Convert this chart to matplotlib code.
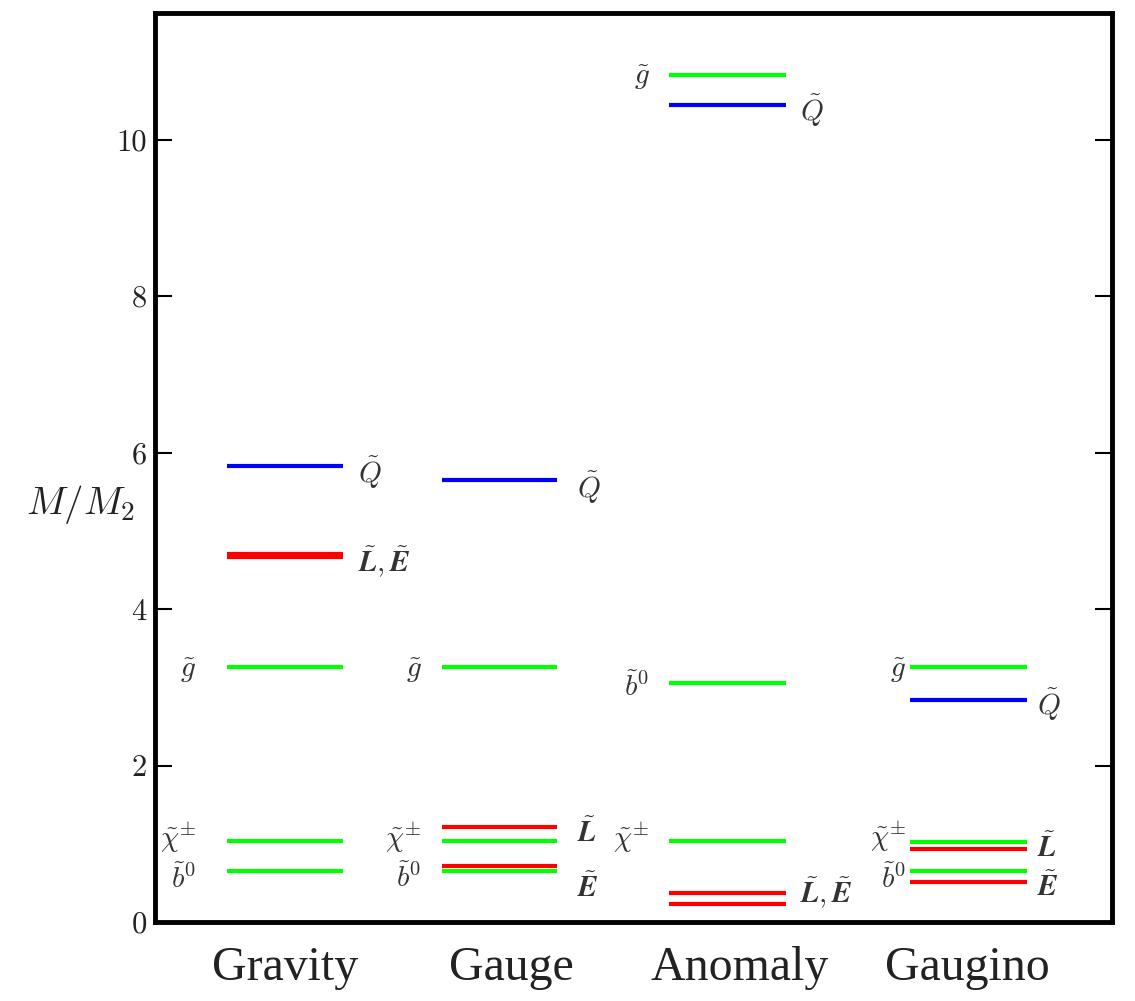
import matplotlib
matplotlib.use("Agg")
import matplotlib.pyplot as plt

plt.rcParams['mathtext.fontset'] = 'cm'
plt.rcParams['axes.formatter.use_mathtext'] = True

# --- data: mass levels M/M2 per scenario ---
schemes = ["Gravity", "Gauge", "Anomaly", "Gaugino"]

gravity_vals = [5.83, 4.71, 4.66, 3.26, 1.04, 0.65]
gravity_cols = ["blue", "red", "red", "lime", "lime", "lime"]

gauge_vals = [5.65, 3.26, 1.21, 1.04, 0.72, 0.65]
gauge_cols = ["blue", "lime", "red", "lime", "red", "lime"]

anomaly_vals = [10.83, 10.45, 3.06, 1.04, 0.37, 0.23]
anomaly_cols = ["lime", "blue", "lime", "lime", "red", "red"]

gaugino_vals = [3.26, 2.84, 1.02, 0.93, 0.65, 0.51]
gaugino_cols = ["lime", "blue", "lime", "red", "lime", "red"]

levels = [(gravity_vals, gravity_cols), (gauge_vals, gauge_cols),
          (anomaly_vals, anomaly_cols), (gaugino_vals, gaugino_cols)]

# labels: (side, text, y)
gravity_lab = [("r", r"$\tilde{Q}$", 5.75), ("r", r"$\tilde{\boldsymbol{L}},\tilde{\boldsymbol{E}}$", 4.6),
               ("l", r"$\tilde{g}$", 3.22), ("l", r"$\tilde{\chi}^{\pm}$", 1.08), ("l", r"$\tilde{b}^{0}$", 0.55)]
gauge_lab = [("r", r"$\tilde{Q}$", 5.55), ("l", r"$\tilde{g}$", 3.22), ("r", r"$\tilde{\boldsymbol{L}}$", 1.14),
             ("l", r"$\tilde{\chi}^{\pm}$", 1.08), ("l", r"$\tilde{b}^{0}$", 0.56), ("r", r"$\tilde{\boldsymbol{E}}$", 0.43)]
anomaly_lab = [("l", r"$\tilde{g}$", 10.8), ("r", r"$\tilde{Q}$", 10.37), ("l", r"$\tilde{b}^{0}$", 3.0),
               ("l", r"$\tilde{\chi}^{\pm}$", 1.08), ("r", r"$\tilde{\boldsymbol{L}},\tilde{\boldsymbol{E}}$", 0.36)]
gaugino_lab = [("l", r"$\tilde{g}$", 3.22), ("r", r"$\tilde{Q}$", 2.78), ("l", r"$\tilde{\chi}^{\pm}$", 1.09),
               ("r", r"$\tilde{\boldsymbol{L}}$", 0.95), ("l", r"$\tilde{b}^{0}$", 0.55), ("r", r"$\tilde{\boldsymbol{E}}$", 0.45)]
labels = [gravity_lab, gauge_lab, anomaly_lab, gaugino_lab]

# layout (x in data units, axis 0..4.2)
line_x = [(0.316, 0.825), (1.26, 1.764), (2.255, 2.768), (3.312, 3.825)]
lab_left = [0.18, 1.17, 2.17, 3.295]
lab_right = [0.89, 1.85, 2.83, 3.87]
cat_x = [0.57, 1.566, 2.567, 3.567]

fig = plt.figure(figsize=(11.35, 10.01), dpi=100)
ax = fig.add_axes([0.1366, 0.0789, 0.9797 - 0.1366, 0.987 - 0.0789])

for (vals, cols), (x0, x1) in zip(levels, line_x):
    for v, c in zip(vals, cols):
        ax.hlines(v, x0, x1, colors=c, linewidth=3.0)

for labs, xl, xr in zip(labels, lab_left, lab_right):
    for side, txt, y in labs:
        if side == "l":
            ax.text(xl, y, txt, ha="right", va="center", fontsize=21, color="#333333")
        else:
            ax.text(xr, y, txt, ha="left", va="center", fontsize=21, color="#333333")

ax.set_xlim(0, 4.2)
ax.set_ylim(0, 11.62)
ax.set_yticks([0, 2, 4, 6, 8, 10])
ax.set_yticklabels(["0", "2", "4", "6", "8", "10"], fontfamily="cmr10", fontsize=22, color="#222222")
ax.tick_params(axis="y", direction="in", left=True, right=True, length=12, width=1.5, pad=6)
ax.set_xticks(cat_x)
ax.set_xticklabels(schemes, fontfamily="Liberation Serif", fontsize=34.5, color="#222222")
ax.tick_params(axis="x", length=0, pad=17)

for s in ax.spines.values():
    s.set_linewidth(3.5)

ax.set_ylabel(r"$M/M_2$", rotation=0, fontsize=28, ha="center", va="center", color="#222222")
ax.yaxis.set_label_coords(-0.078, 0.459)

fig.savefig("out.png", dpi=100)
